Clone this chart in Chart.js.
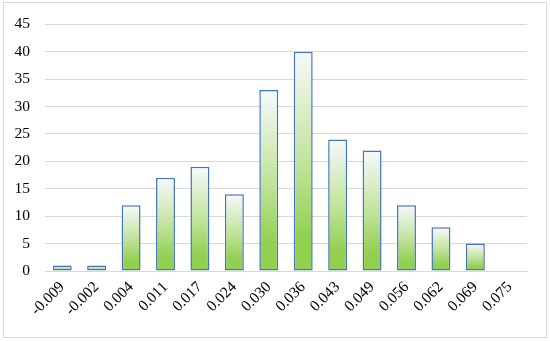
<!DOCTYPE html>
<html lang="en">
<head>
  <meta charset="UTF-8">
  <title>Histogram</title>
  <script src="https://cdn.jsdelivr.net/npm/chart.js@4.4.1/dist/chart.umd.min.js"></script>
  <style>
    body {
      margin: 0;
      background: #fff;
    }
    .wrap {
      position: relative;
      width: 550px;
      height: 341px;
    }
    .frame {
      position: absolute;
      left: 3px;
      top: 2px;
      width: 542px;
      height: 334px;
      border: 1px solid #d9d9d9;
      pointer-events: none;
    }
  </style>
</head>
<body>
  <div class="wrap">
    <canvas id="chart" width="550" height="341"></canvas>
    <div class="frame"></div>
  </div>
  <script>
    const bins = ['-0.009', '-0.002', '0.004', '0.011', '0.017', '0.024', '0.030',
                  '0.036', '0.043', '0.049', '0.056', '0.062', '0.069', '0.075'];
    const counts = [1, 1, 12, 17, 19, 14, 33, 40, 24, 22, 12, 8, 5, 0];
    const yTicks = [0, 5, 10, 15, 20, 25, 30, 35, 40, 45];

    const serif = '"Liberation Serif", "DejaVu Serif", serif';

    // white at the top of each bar fading into green at its base
    function barFill(ctx) {
      const chart = ctx.chart;
      const y = chart.scales && chart.scales.y;
      if (!chart.chartArea || !y || ctx.raw == null) return '#92d050';
      const top = y.getPixelForValue(ctx.raw);
      const base = y.getPixelForValue(0);
      if (base - top < 1) return '#92d050';
      const g = chart.ctx.createLinearGradient(0, top, 0, base);
      g.addColorStop(0, '#f7f9fc');
      g.addColorStop(0.5, '#c2e49d');
      g.addColorStop(0.85, '#92d050');
      g.addColorStop(1, '#92d050');
      return g;
    }

    new Chart(document.getElementById('chart'), {
      type: 'bar',
      data: {
        labels: bins,
        datasets: [{
          data: counts,
          backgroundColor: barFill,
          borderColor: '#4472c4',
          borderWidth: 1.5,
          borderSkipped: false,
          barPercentage: 0.55,
          categoryPercentage: 1
        }]
      },
      options: {
        responsive: false,
        animation: false,
        layout: {
          padding: { left: 0, right: 23, top: 22, bottom: 0 }
        },
        plugins: {
          legend: { display: false },
          tooltip: { enabled: false }
        },
        scales: {
          x: {
            grid: { display: false, drawTicks: false },
            border: { color: '#d9d9d9' },
            ticks: {
              color: '#000',
              font: { family: serif, size: 15.5 },
              minRotation: 45,
              maxRotation: 45,
              padding: 7,
              autoSkip: false
            },
            afterFit: function (s) { s.height = 70; }
          },
          y: {
            min: 0,
            max: 45,
            afterBuildTicks: function (s) {
              s.ticks = yTicks.map(v => ({ value: v }));
            },
            grid: { color: '#d9d9d9', drawTicks: false },
            border: { display: false },
            ticks: {
              color: '#000',
              font: { family: serif, size: 15.5 },
              padding: 15
            },
            afterFit: function (s) { s.width = 45; }
          }
        }
      }
    });
  </script>
</body>
</html>
